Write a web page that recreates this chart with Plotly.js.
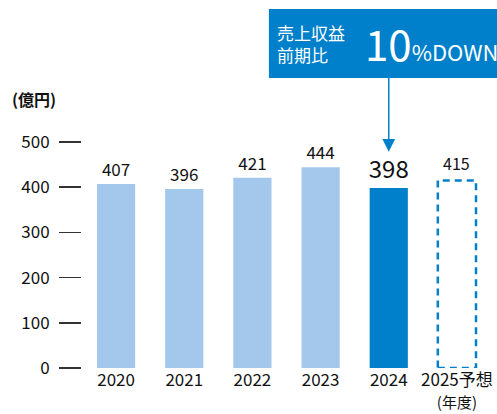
<!DOCTYPE html>
<html><head><meta charset="utf-8">
<script src="https://cdn.plot.ly/plotly-3.0.1.min.js"></script>
<style>html,body{margin:0;padding:0;background:#fff}</style>
</head><body>
<div id="chart" style="width:497px;height:414px"></div>
<script>
const categories = ['2020','2021','2022','2023','2024','2025予想'];
const tickLabels = ['2020','2021','2022','2023','2024','2025予想<br><span style="font-size:15px">(年度)</span>'];
const actualValues = [407, 396, 421, 444, 398, null];
const forecastValues = [null, null, null, null, null, 415];
const yTicks = [0, 100, 200, 300, 400, 500];
const yUnit = '(億円)';
const calloutLabel = '売上収益<br>前期比';
const calloutBig = '10';
const calloutSmall = '%DOWN';

const FONT = '"Noto Sans CJK JP", "Noto Sans", sans-serif';
const LIGHT = '#A3C8EB';
const DARK = '#0080CB';
const bargap = 0.44;
const half = (1 - bargap) / 2;

const fIdx = forecastValues.findIndex(v => v !== null);
const barColors = categories.map((c, i) => i === 4 ? DARK : LIGHT);
const textSizes = categories.map((c, i) => i === 4 ? 24 : 17);

const traces = [
  {
    type: 'bar', x: categories, y: actualValues,
    marker: {color: barColors},
    text: actualValues.map(v => v === null ? '' : String(v)),
    textposition: 'outside', cliponaxis: false, constraintext: 'none',
    textfont: {family: FONT, size: textSizes, color: '#111'},
    hoverinfo: 'x+y'
  }
];

const shapes = [
  {type: 'rect', xref: 'x', yref: 'y', x0: fIdx - half, x1: fIdx + half, y0: 0, y1: forecastValues[fIdx],
   line: {color: DARK, width: 2.5, dash: '7px,5px'}, fillcolor: 'rgba(0,0,0,0)'},
  {type: 'rect', xref: 'paper', yref: 'paper', x0: 0.457, x1: 1.05, y0: 1.283, y1: 1.588,
   line: {width: 0}, fillcolor: DARK},
  {type: 'line', xref: 'x', yref: 'paper', x0: 4, x1: 4, y0: 1.283, y1: 1.0,
   line: {color: DARK, width: 1.5}}
];

const annotations = [
  {xref: 'x', yref: 'y', x: fIdx, y: forecastValues[fIdx], yanchor: 'bottom', yshift: 3,
   text: String(forecastValues[fIdx]), showarrow: false, font: {family: FONT, size: 16, color: '#111'}},
  {xref: 'paper', yref: 'paper', x: -0.175, y: 1.19, xanchor: 'left', yanchor: 'middle',
   text: '<b>' + yUnit + '</b>', showarrow: false, font: {family: FONT, size: 16, color: '#111'}},
  {xref: 'paper', yref: 'paper', x: 0.475, y: 1.437, xanchor: 'left', yanchor: 'middle',
   text: calloutLabel, align: 'left', showarrow: false, borderpad: 0,
   font: {family: FONT, size: 17, color: '#fff'}},
  {xref: 'paper', yref: 'paper', x: 0.69, y: 1.44, xanchor: 'left', yanchor: 'middle',
   text: '<span style="font-size:42px">' + calloutBig + '</span><span style="font-size:22px">' + calloutSmall + '</span>',
   showarrow: false, borderpad: 0, font: {family: FONT, size: 22, color: '#fff'}},
  {xref: 'x', yref: 'paper', x: 4, y: 0.957, text: ' ', showarrow: true,
   axref: 'pixel', ayref: 'pixel', ax: 0, ay: -20, standoff: 0, startstandoff: 0,
   arrowhead: 2, arrowsize: 1.7, arrowwidth: 1.5, arrowcolor: DARK}
];

const layout = {
  width: 497, height: 414,
  margin: {l: 82, r: 6, t: 142, b: 46},
  paper_bgcolor: '#fff', plot_bgcolor: '#fff',
  showlegend: false, bargap: bargap,
  font: {family: FONT, color: '#111'},
  xaxis: {
    type: 'category', tickvals: categories, ticktext: tickLabels,
    range: [-0.5, 5.5], showgrid: false, zeroline: false, showline: false,
    ticks: '', tickfont: {family: FONT, size: 17, color: '#111'}
  },
  yaxis: {
    range: [0, 500], tickvals: yTicks, showgrid: false, zeroline: false, showline: false,
    ticks: 'outside', ticklen: 22, tickwidth: 1.5, tickcolor: '#333',
    ticklabelstandoff: 6,
    tickfont: {family: FONT, size: 17, color: '#111'}
  },
  shapes: shapes,
  annotations: annotations
};

Plotly.newPlot('chart', traces, layout, {displayModeBar: false, staticPlot: true});
</script>
</body></html>
